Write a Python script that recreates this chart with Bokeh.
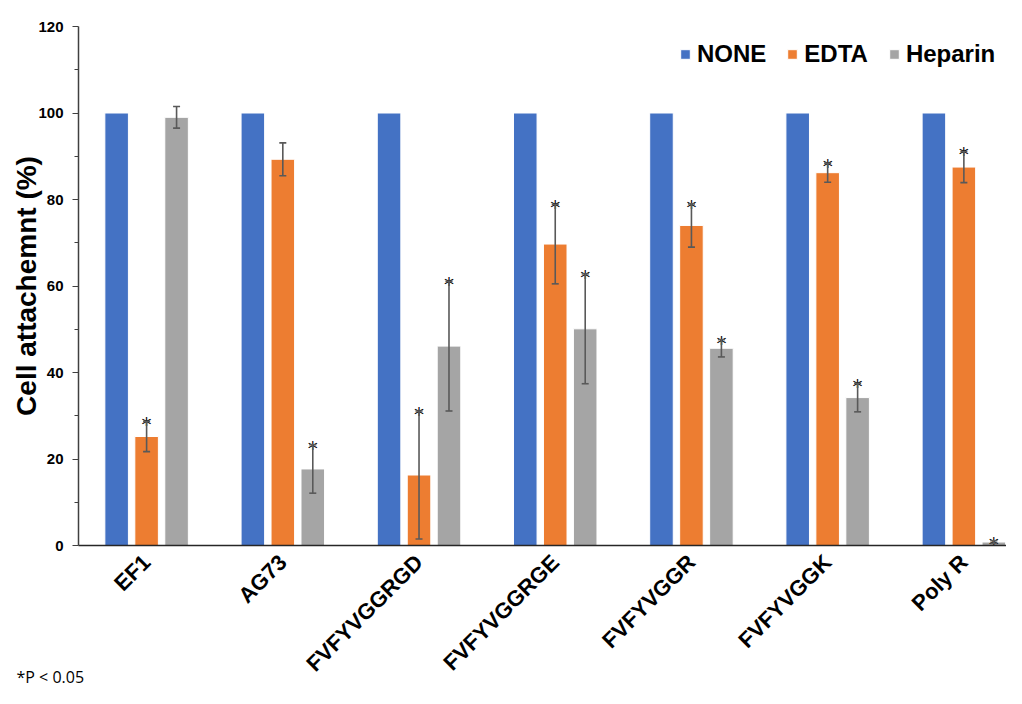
import numpy as np
from bokeh.plotting import figure
from bokeh.models import (ColumnDataSource, Range1d, FixedTicker, Legend, LegendItem,
                          Whisker, TeeHead, Title)
from bokeh.core.properties import value
from bokeh.embed import file_html
from bokeh.resources import INLINE

# ---- data ----
categories = ["EF1", "AG73", "FVFYVGGRGD", "FVFYVGGRGE", "FVFYVGGR", "FVFYVGGK", "Poly R"]
none_vals = [100, 100, 100, 100, 100, 100, 100]
edta_vals = [25.2, 89.3, 16.3, 69.7, 74.0, 86.2, 87.5]
edta_err = [3.5, 3.8, 14.8, 9.2, 5.0, 2.2, 3.6]
edta_sig = [True, False, True, True, True, True, True]
heparin_vals = [99.0, 17.7, 46.1, 50.1, 45.6, 34.2, 0.8]
heparin_err = [2.5, 5.6, 15.0, 12.7, 2.0, 3.3, 0.3]
heparin_sig = [False, True, True, True, True, True, True]
y_ticks = [0, 20, 40, 60, 80, 100, 120]

series_names = ["NONE", "EDTA", "Heparin"]
colors = ["#4472C4", "#ED7D31", "#A5A5A5"]
offsets = [-0.22, 0.0, 0.22]
bar_w = 0.173

centers = np.arange(len(categories)) + 0.5

p = figure(width=1006, height=688, output_backend="svg", toolbar_location=None,
           x_range=Range1d(0, 6.813), y_range=Range1d(0, 120),
           min_border_left=78, min_border_right=0, min_border_top=26, min_border_bottom=142)
p.outline_line_color = None
p.xgrid.visible = False
p.ygrid.visible = False
p.background_fill_color = "white"

FONT = "Liberation Sans"

renderers = []
for name, vals, col, off in zip(series_names, [none_vals, edta_vals, heparin_vals], colors, offsets):
    src = ColumnDataSource(dict(x=centers + off, top=vals))
    r = p.vbar(x="x", top="top", width=bar_w, source=src, fill_color=col,
               line_color="white", line_width=1)
    renderers.append(r)

err_color = "#595959"
for vals, errs, sig, off in [(edta_vals, edta_err, edta_sig, 0.0),
                             (heparin_vals, heparin_err, heparin_sig, 0.22)]:
    v = np.array(vals); e = np.array(errs)
    src = ColumnDataSource(dict(x=centers + off, upper=v + e, lower=v - e))
    w = Whisker(source=src, base="x", upper="upper", lower="lower",
                line_color=err_color, line_width=1.6, level="overlay",
                upper_head=TeeHead(size=7, line_color=err_color, line_width=1.6),
                lower_head=TeeHead(size=7, line_color=err_color, line_width=1.6))
    p.add_layout(w)
    m = np.array(sig)
    ssrc = ColumnDataSource(dict(x=(centers + off)[m], y=(v + e)[m], t=["*"] * int(m.sum())))
    p.text(x="x", y="y", text="t", source=ssrc, text_font=value("DejaVu Sans"),
           text_font_size="20px", text_align="center", text_baseline="alphabetic",
           y_offset=3, text_color="black")

# y axis
yax = p.yaxis[0]
yax.ticker = FixedTicker(ticks=y_ticks, minor_ticks=list(range(10, 120, 20)))
yax.axis_line_color = "#404040"
yax.axis_line_width = 1.5
yax.major_tick_line_color = "#404040"
yax.minor_tick_line_color = "#404040"
yax.major_tick_out = 6
yax.major_tick_in = 0
yax.minor_tick_out = 4
yax.minor_tick_in = 0
yax.major_label_text_font = FONT
yax.major_label_text_font_style = "bold"
yax.major_label_text_font_size = "15px"
yax.major_label_text_color = "black"
yax.major_label_standoff = 9
yax.axis_label = "Cell attachemnt (%)"
yax.axis_label_text_font = FONT
yax.axis_label_text_font_style = "bold"
yax.axis_label_text_font_size = "28px"
yax.axis_label_text_color = "black"
yax.axis_label_standoff = -7

# x axis
xax = p.xaxis[0]
xax.ticker = FixedTicker(ticks=list(centers))
xax.major_label_overrides = {float(c): cat for c, cat in zip(centers, categories)}
xax.major_label_orientation = np.pi / 4
xax.major_tick_line_color = None
xax.minor_tick_line_color = None
xax.axis_line_color = "#262626"
xax.axis_line_width = 1.5
xax.major_label_text_font = FONT
xax.major_label_text_font_style = "bold"
xax.major_label_text_font_size = "22px"
xax.major_label_text_color = "black"
xax.major_label_standoff = 7

legend = Legend(items=[LegendItem(label=n, renderers=[r]) for n, r in zip(series_names, renderers)],
                orientation="horizontal", location=(601, 477))
legend.label_text_font = FONT
legend.label_text_font_style = "bold"
legend.label_text_font_size = "24px"
legend.label_text_color = "black"
legend.glyph_width = 12
legend.glyph_height = 12
legend.label_standoff = 6
legend.spacing = 20
legend.padding = 0
legend.margin = 0
legend.border_line_color = None
legend.background_fill_alpha = 0
p.add_layout(legend)

foot = Title(text="*P < 0.05", align="left", vertical_align="top", offset=-62, standoff=-46,
             text_font="Open Sans", text_font_size="16px", text_font_style="normal",
             text_color="black")
p.add_layout(foot, "below")

open("out.html", "w").write(file_html(p, INLINE))
